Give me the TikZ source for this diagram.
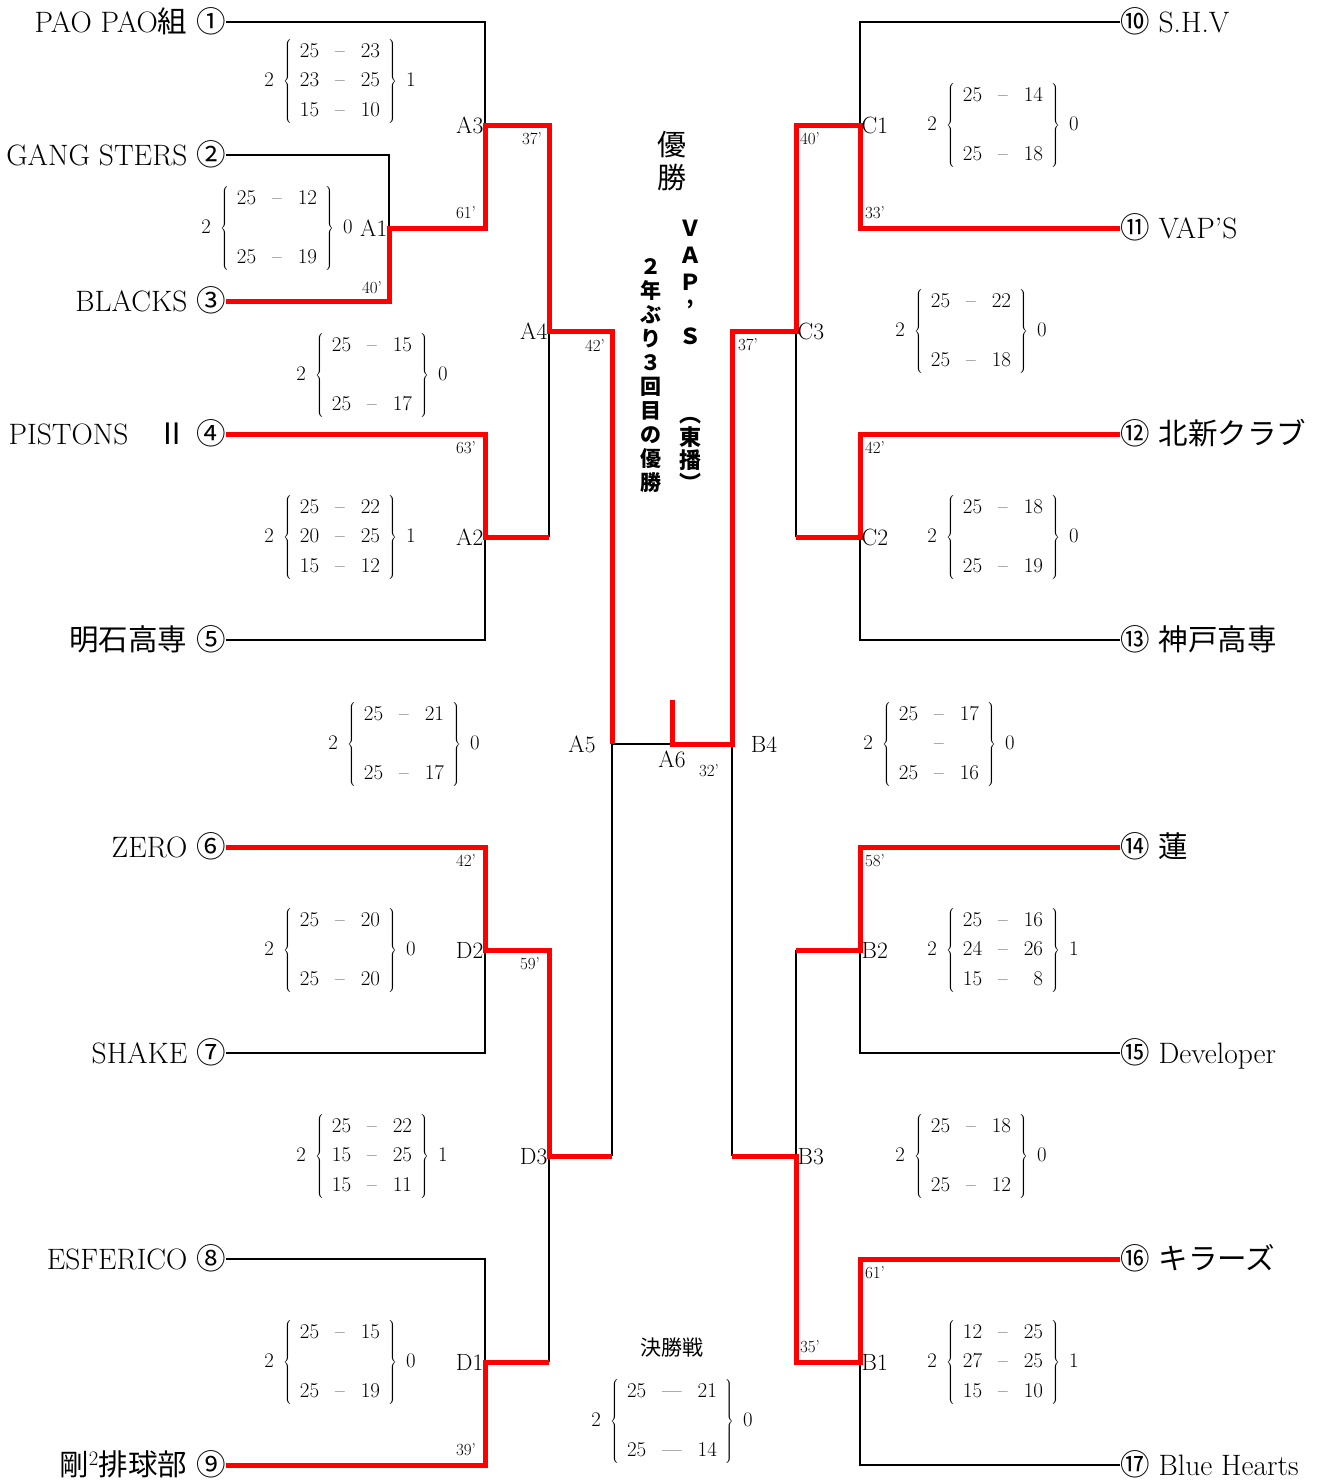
\documentclass[tikz,border=0pt]{standalone}
\usepackage{fontspec}
\usepackage{tikz}
\newfontfamily\jp{Noto Sans CJK JP}
\setlength{\tabcolsep}{8pt}

\begin{document}
\begin{tikzpicture}
			[x=1pt, y=-1pt,
			lose/.style={draw=black, line width=1.8pt},
			win/.style={draw=red, line width=5pt},
			team/.style={inner sep=0pt, text height=20pt, text depth=0pt, font=\fontsize{29.5}{32}\selectfont},
			mno/.style={inner sep=1.5pt, text height=16pt, text depth=0pt, font=\fontsize{23.5}{26}\selectfont},
			tm/.style={inner sep=0pt, font=\fontsize{17}{19}\selectfont},
			score/.style={inner sep=0pt, font=\fontsize{21}{29.5}\selectfont}]
			\useasboundingbox (0,0) rectangle (1324,1481);
			% teams, left
			\node[team, anchor=east] (t1) at (226,22) {PAO PAO{\jp 組}\ {\jp ①}};
			\node[team, anchor=east] (t2) at (226,155) {GANG STERS\ {\jp ②}};
			\node[team, anchor=east] (t3) at (226,301) {BLACKS\ {\jp ③}};
			\node[team, anchor=east] (t4) at (226,434) {PISTONS\quad{\jp Ⅱ}\ {\jp ④}};
			\node[team, anchor=east] (t5) at (226,640) {{\jp 明石高専}\ {\jp ⑤}};
			\node[team, anchor=east] (t6) at (226,847) {ZERO\ {\jp ⑥}};
			\node[team, anchor=east] (t7) at (226,1053) {SHAKE\ {\jp ⑦}};
			\node[team, anchor=east] (t8) at (226,1259) {ESFERICO\ {\jp ⑧}};
			\node[team, anchor=east] (t9) at (226,1465) {{\jp 剛}\textsuperscript{2}{\jp 排球部}\ {\jp ⑨}};
			% teams, right
			\node[team, anchor=west] (t10) at (1120,22) {{\jp ⑩}\ S.H.V};
			\node[team, anchor=west] (t11) at (1120,228) {{\jp ⑪}\ VAP’S};
			\node[team, anchor=west] (t12) at (1120,434) {{\jp ⑫}\ {\jp 北新クラブ}};
			\node[team, anchor=west] (t13) at (1120,640) {{\jp ⑬}\ {\jp 神戸高専}};
			\node[team, anchor=west] (t14) at (1120,847) {{\jp ⑭}\ {\jp 蓮}};
			\node[team, anchor=west] (t15) at (1120,1053) {{\jp ⑮}\ Developer};
			\node[team, anchor=west] (t16) at (1120,1259) {{\jp ⑯}\ {\jp キラーズ}};
			\node[team, anchor=west] (t17) at (1120,1465) {{\jp ⑰}\ Blue Hearts};
			% matches
			\coordinate (A1) at (389,228);
			\coordinate (A3) at (485,125);
			\coordinate (A2) at (485,537);
			\coordinate (A4) at (549,331);
			\coordinate (A5) at (612,744);
			\coordinate (A6) at (672,744);
			\coordinate (champ) at (672,700);
			\coordinate (D2) at (485,950);
			\coordinate (D1) at (485,1362);
			\coordinate (D3) at (549,1156);
			\coordinate (C1) at (860,125);
			\coordinate (C2) at (860,537);
			\coordinate (C3) at (796,331);
			\coordinate (B4) at (732,744);
			\coordinate (B2) at (860,950);
			\coordinate (B1) at (860,1362);
			\coordinate (B3) at (796,1156);
			% losers
			\draw[lose] (t1.east) -| (A3);
			\draw[lose] (t2.east) -| (A1);
			\draw[lose] (t5.east) -| (A2);
			\draw[lose] (A2 -| A4) -- (A4);
			\draw[lose] (A5) -- (A6);
			\draw[lose] (t7.east) -| (D2);
			\draw[lose] (t8.east) -| (D1);
			\draw[lose] (D1 -| D3) -- (D3);
			\draw[lose] (D3 -| A5) -- (A5);
			\draw[lose] (t10.west) -| (C1);
			\draw[lose] (t13.west) -| (C2);
			\draw[lose] (C2 -| C3) -- (C3);
			\draw[lose] (t15.west) -| (B2);
			\draw[lose] (B2 -| B3) -- (B3);
			\draw[lose] (t17.west) -| (B1);
			\draw[lose] (B3 -| B4) -- (B4);
			% winners
			\draw[win] (t3.east) -| (A1) -| (A3) -| (A4) -| (A5);
			\draw[win] (t4.east) -| (A2) -- (A2 -| A4);
			\draw[win] (t6.east) -| (D2) -| (D3) -- (D3 -| A5);
			\draw[win] (t9.east) -| (D1) -- (D1 -| D3);
			\draw[win] (t11.west) -| (C1) -| (C3) -| (B4) -- (A6) -- (champ);
			\draw[win] (t12.west) -| (C2) -- (C2 -| C3);
			\draw[win] (t14.west) -| (B2) -- (B2 -| B3);
			\draw[win] (t16.west) -| (B1) -| (B3) -- (B3 -| B4);
			% match names
			\node[mno, anchor=east] (nA1) at (A1) {A1};
			\node[mno, anchor=east] (nA3) at (A3) {A3};
			\node[mno, anchor=east] (nA2) at (A2) {A2};
			\node[mno, anchor=east] (nA4) at (A4) {A4};
			\node[mno] (nA5) at (582,744) {A5};
			\node[mno] (nA6) at (672,759) {A6};
			\node[mno] (nB4) at (764,744) {B4};
			\node[mno, anchor=east] (nD2) at (D2) {D2};
			\node[mno, anchor=east] (nD1) at (D1) {D1};
			\node[mno, anchor=east] (nD3) at (D3) {D3};
			\node[mno, anchor=west] (nC1) at (C1) {C1};
			\node[mno, anchor=west] (nC2) at (C2) {C2};
			\node[mno, anchor=west] (nC3) at (C3) {C3};
			\node[mno, anchor=west] (nB2) at (B2) {B2};
			\node[mno, anchor=west] (nB1) at (B1) {B1};
			\node[mno, anchor=west] (nB3) at (B3) {B3};
			% times
			\node[tm] (m1) at (532,139) {37’};
			\node[tm] (m2) at (466,213) {61’};
			\node[tm] (m3) at (372,288) {40’};
			\node[tm] (m4) at (595,346) {42’};
			\node[tm] (m5) at (466,448) {63’};
			\node[tm] (m6) at (748,345) {37’};
			\node[tm] (m7) at (810,139) {40’};
			\node[tm] (m8) at (875,213) {33’};
			\node[tm] (m9) at (875,448) {42’};
			\node[tm] (m10) at (709,771) {32’};
			\node[tm] (m11) at (466,861) {42’};
			\node[tm] (m12) at (530,964) {59’};
			\node[tm] (m13) at (875,861) {58’};
			\node[tm] (m14) at (875,1273) {61’};
			\node[tm] (m15) at (810,1347) {35’};
			\node[tm] (m16) at (466,1450) {39’};
			% scores
			\node[score] (s1) at (340,81) {$2\;\left\{\begin{tabular}{rcr}25&--&23\\23&--&25\\15&--&10\end{tabular}\right\}\;1$};
			\node[score] (s2) at (277,228) {$2\;\left\{\begin{tabular}{rcr}25&--&12\\&&\\25&--&19\end{tabular}\right\}\;0$};
			\node[score] (s3) at (372,375) {$2\;\left\{\begin{tabular}{rcr}25&--&15\\&&\\25&--&17\end{tabular}\right\}\;0$};
			\node[score] (s4) at (340,537) {$2\;\left\{\begin{tabular}{rcr}25&--&22\\20&--&25\\15&--&12\end{tabular}\right\}\;1$};
			\node[score] (s5) at (404,744) {$2\;\left\{\begin{tabular}{rcr}25&--&21\\&&\\25&--&17\end{tabular}\right\}\;0$};
			\node[score] (s6) at (340,950) {$2\;\left\{\begin{tabular}{rcr}25&--&20\\&&\\25&--&20\end{tabular}\right\}\;0$};
			\node[score] (s7) at (372,1156) {$2\;\left\{\begin{tabular}{rcr}25&--&22\\15&--&25\\15&--&11\end{tabular}\right\}\;1$};
			\node[score] (s8) at (340,1362) {$2\;\left\{\begin{tabular}{rcr}25&--&15\\&&\\25&--&19\end{tabular}\right\}\;0$};
			\node[score] (s10) at (1003,125) {$2\;\left\{\begin{tabular}{rcr}25&--&14\\&&\\25&--&18\end{tabular}\right\}\;0$};
			\node[score] (s11) at (971,331) {$2\;\left\{\begin{tabular}{rcr}25&--&22\\&&\\25&--&18\end{tabular}\right\}\;0$};
			\node[score] (s12) at (1003,537) {$2\;\left\{\begin{tabular}{rcr}25&--&18\\&&\\25&--&19\end{tabular}\right\}\;0$};
			\node[score] (s13) at (939,744) {$2\;\left\{\begin{tabular}{rcr}25&--&17\\&--&\\25&--&16\end{tabular}\right\}\;0$};
			\node[score] (s14) at (1003,950) {$2\;\left\{\begin{tabular}{rcr}25&--&16\\24&--&26\\15&--&8\end{tabular}\right\}\;1$};
			\node[score] (s15) at (971,1156) {$2\;\left\{\begin{tabular}{rcr}25&--&18\\&&\\25&--&12\end{tabular}\right\}\;0$};
			\node[score] (s16) at (1003,1362) {$2\;\left\{\begin{tabular}{rcr}12&--&25\\27&--&25\\15&--&10\end{tabular}\right\}\;1$};
			% final
			\node[font=\jp\fontsize{21}{24}\selectfont] (ftitle) at (672,1348) {決勝戦};
			\node[score] (s9) at (672,1421) {$2\;\left\{\begin{tabular}{rcr}25&---&21\\&&\\25&---&14\end{tabular}\right\}\;0$};
			% champion
			\node[align=center, inner sep=0pt, font=\jp\fontsize{29}{33}\selectfont] (yusho) at (672,161.5) {優\\勝};
			\node[align=center, inner sep=0pt, font=\jp\bfseries\fontsize{21}{24.1}\selectfont] (note) at (651,375.5) {２\\年\\ぶ\\り\\３\\回\\目\\の\\優\\勝};
			\node[align=center, inner sep=0pt, font=\jp\bfseries\fontsize{22}{27}\selectfont] (vaps) at (690,282) {Ｖ\\Ａ\\Ｐ\\’\\Ｓ};
			\node[align=center, inner sep=0pt, font=\jp\bfseries\fontsize{22}{23}\selectfont] (tobn) at (690,454) {︵\\東\\播\\︶};
\end{tikzpicture}
\end{document}
